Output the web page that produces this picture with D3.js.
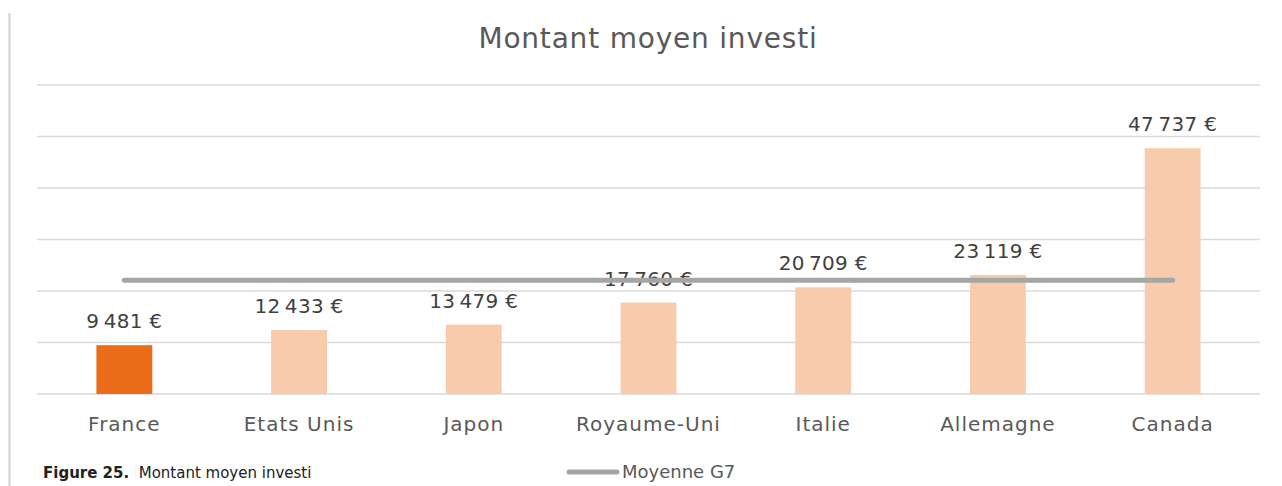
<!DOCTYPE html>
<html>
<head>
<meta charset="utf-8">
<script src="https://cdn.jsdelivr.net/npm/d3@7"></script>
<style>
  body { margin: 0; background: #fff; }
  svg { display: block; font-family: "DejaVu Sans", sans-serif; }
</style>
</head>
<body>
<svg></svg>
<script>
var width = 1282;
var height = 486;

var countries = ["France", "Etats Unis", "Japon", "Royaume-Uni", "Italie", "Allemagne", "Canada"];
var amounts = [9481, 12433, 13479, 17760, 20709, 23119, 47737];
var g7Average = 22100;
var gridTicks = [0, 10000, 20000, 30000, 40000, 50000, 60000];

var frLocale = d3.formatLocale({
  decimal: ",",
  thousands: "\u2009",
  grouping: [3],
  currency: ["", " €"]
});
var fmt = frLocale.format("$,.0f");

var margin = { left: 37, right: 22, top: 85, bottom: 92 };

var x = d3.scaleBand()
          .domain(countries)
          .range([margin.left, width - margin.right])
          .paddingInner(0.68)
          .paddingOuter(0.34);

var y = d3.scaleLinear()
          .domain([0, 60000])
          .range([height - margin.bottom, margin.top]);

var svg = d3.select("svg")
              .attr("width", width)
              .attr("height", height);

// left border line of the frame
svg.append("line")
    .attr("x1", 9.5).attr("x2", 9.5)
    .attr("y1", 13).attr("y2", height)
    .attr("stroke", "#d9d9d9")
    .attr("stroke-width", 2.5);

// title
svg.append("text")
    .attr("x", 648)
    .attr("y", 48)
    .attr("text-anchor", "middle")
    .attr("fill", "#595959")
    .style("font-size", "28px")
    .style("letter-spacing", "0.8px")
    .text("Montant moyen investi");

// gridlines
svg.append("g")
  .selectAll("line")
  .data(gridTicks)
  .enter()
  .append("line")
    .attr("x1", margin.left)
    .attr("x2", width - margin.right)
    .attr("y1", d => y(d))
    .attr("y2", d => y(d))
    .attr("stroke", "#d9d9d9")
    .attr("stroke-width", 1.5);

var data = countries.map((c, i) => ({ country: c, amount: amounts[i] }));

// bars
svg.append("g")
  .selectAll("rect")
  .data(data)
  .enter()
  .append("rect")
    .attr("x", d => x(d.country))
    .attr("width", x.bandwidth())
    .attr("y", d => y(d.amount))
    .attr("height", d => y(0) - y(d.amount))
    .attr("fill", (d, i) => i === 0 ? "#eb6c18" : "#f8cbad");

// value labels
svg.append("g")
  .selectAll("text")
  .data(data)
  .enter()
  .append("text")
    .attr("x", d => x(d.country) + x.bandwidth() / 2)
    .attr("y", d => y(d.amount) - 17)
    .attr("text-anchor", "middle")
    .attr("fill", "#404040")
    .style("font-size", "20px")
    .style("letter-spacing", "0.3px")
    .text(d => fmt(d.amount));

// category labels
svg.append("g")
  .selectAll("text")
  .data(countries)
  .enter()
  .append("text")
    .attr("x", d => x(d) + x.bandwidth() / 2)
    .attr("y", 431)
    .attr("text-anchor", "middle")
    .attr("fill", "#595959")
    .style("font-size", "20px")
    .style("letter-spacing", "1px")
    .text(d => d);

// G7 average line
var line = d3.line()
             .x(d => x(d) + x.bandwidth() / 2)
             .y(() => y(g7Average));

svg.append("path")
    .datum([countries[0], countries[countries.length - 1]])
    .attr("d", line)
    .attr("fill", "none")
    .attr("stroke", "#a5a5a5")
    .attr("stroke-width", 5)
    .attr("stroke-linecap", "round");

// legend
svg.append("line")
    .attr("x1", 569).attr("x2", 617)
    .attr("y1", 472).attr("y2", 472)
    .attr("stroke", "#a5a5a5")
    .attr("stroke-width", 5)
    .attr("stroke-linecap", "round");

svg.append("text")
    .attr("x", 622)
    .attr("y", 478)
    .attr("fill", "#595959")
    .style("font-size", "18px")
    .text("Moyenne G7");

// figure caption
var caption = svg.append("text")
    .attr("x", 43)
    .attr("y", 478)
    .attr("fill", "#222")
    .style("font-size", "15px");
caption.append("tspan").style("font-weight", "bold").text("Figure 25.");
caption.append("tspan").text("\u00a0 Montant moyen investi");
</script>
</body>
</html>
